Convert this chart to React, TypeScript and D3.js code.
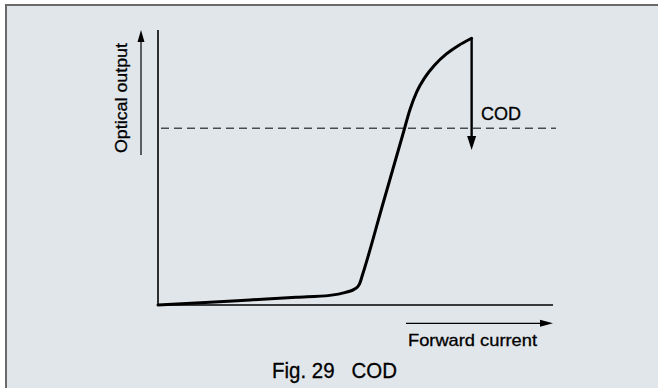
import React from "react";
import * as d3 from "d3";

// Data (arbitrary units: forward current 0..100, optical output 0..100)
const currentValues = [0, 12, 23.3, 35, 43.5, 47.5, 49.8, 51.0, 51.8, 57.0, 62.0, 63.8, 65.5, 67.5, 70.0, 73.1, 76.0, 79.4];
const outputValues = [0, 0.95, 1.85, 2.8, 3.5, 4.6, 5.8, 7.6, 11.1, 37.1, 62.1, 71.1, 77.5, 82.6, 87.2, 91.4, 94.3, 97.0];
const codLevel = [64.3];
const codDrop = [79.4, 97.0, 56.4]; // x, from, to
const labels = ["Optical output", "Forward current", "COD", "Fig. 29\u00a0\u00a0\u00a0COD"];

const W = 658;
const H = 388;

export default function App() {
  const x = d3.scaleLinear().domain([0, 100]).range([158, 553]);
  const y = d3.scaleLinear().domain([0, 100]).range([305, 30]);

  const pts: [number, number][] = currentValues.map((c, i) => [c, outputValues[i]]);
  const line = d3
    .line<[number, number]>()
    .x((d) => x(d[0]))
    .y((d) => y(d[1]))
    .curve(d3.curveMonotoneX);

  const font = "'Liberation Sans', Arial, Helvetica, sans-serif";
  const codX = x(codDrop[0]);
  const codTop = y(codDrop[1]);
  const codBot = y(codDrop[2]);
  const textStroke = { stroke: "#000", strokeWidth: 0.3 };

  return (
    <svg
      width={W}
      height={H}
      style={{ position: "absolute", left: 0, top: 0, display: "block" }}
      fontFamily={font}
    >
      <rect x={0} y={0} width={W} height={H} fill="#ffffff" />
      <rect x={6} y={5} width={W + 20} height={H + 20} fill="#e1e6ea" stroke="#6a6a6a" strokeWidth={2} />

      {/* axes */}
      <line x1={x(0)} y1={y(0) + 1} x2={x(0)} y2={y(100)} stroke="#000" strokeWidth={1.6} />
      <line x1={x(0)} y1={y(0)} x2={x(100)} y2={y(0)} stroke="#000" strokeWidth={1.6} />

      {/* dashed level */}
      <line
        x1={x(0)}
        y1={y(codLevel[0])}
        x2={x(100) + 3}
        y2={y(codLevel[0])}
        stroke="#000"
        strokeWidth={1}
        strokeDasharray="8,5"
        strokeDashoffset={-3}
      />

      {/* curve */}
      <path d={line(pts) ?? ""} fill="none" stroke="#000" strokeWidth={3} strokeLinejoin="round" strokeLinecap="round" />

      {/* COD drop arrow */}
      <line x1={codX} y1={codTop} x2={codX} y2={codBot - 12} stroke="#000" strokeWidth={2.4} />
      <path d={`M${codX - 4.5},${codBot - 14} L${codX + 4.5},${codBot - 14} L${codX},${codBot} Z`} fill="#000" />
      <text x={481} y={120} fontSize={18} fill="#000" textLength={40} lengthAdjust="spacingAndGlyphs" {...textStroke}>
        {labels[2]}
      </text>

      {/* y label arrow */}
      <line x1={141} y1={155} x2={141} y2={40} stroke="#000" strokeWidth={1.2} />
      <path d={`M137.5,42 L144.5,42 L141,30 Z`} fill="#000" />
      <text
        transform="translate(127,153) rotate(-90)"
        fontSize={17}
        fill="#000"
        textLength={110}
        lengthAdjust="spacingAndGlyphs"
        {...textStroke}
      >
        {labels[0]}
      </text>

      {/* x label arrow */}
      <line x1={406} y1={323.3} x2={542} y2={323.3} stroke="#000" strokeWidth={1.2} />
      <path d={`M540,319.8 L540,326.8 L553,323.3 Z`} fill="#000" />
      <text x={408} y={345.5} fontSize={17} fill="#000" textLength={129} lengthAdjust="spacingAndGlyphs" {...textStroke}>
        {labels[1]}
      </text>

      {/* caption */}
      <text x={272} y={377.5} fontSize={21.5} fill="#000" textLength={125} lengthAdjust="spacingAndGlyphs" {...textStroke}>
        {labels[3]}
      </text>
    </svg>
  );
}
